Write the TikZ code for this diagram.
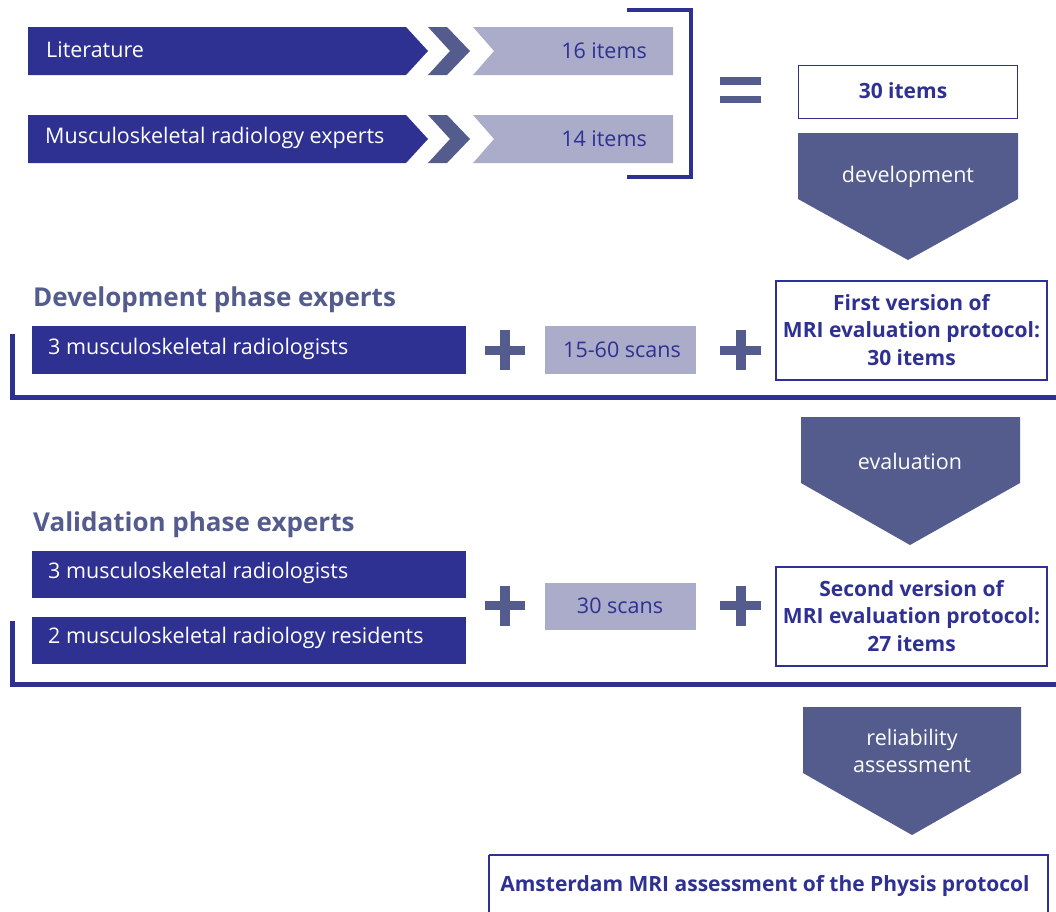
\documentclass[tikz,border=0pt]{standalone}
\usepackage{fontspec}
\setmainfont{Open Sans}
\definecolor{dblue}{HTML}{2E3192}
\definecolor{slate}{HTML}{545B8D}
\definecolor{lightv}{HTML}{ABACC9}
\begin{document}
\begin{tikzpicture}[x=1pt,y=-1pt,
  wtxt/.style={font=\fontsize{21.5}{24}\selectfont, text=white, inner sep=0pt, anchor=west, text height=15.4pt, text depth=0pt},
  btxt/.style={font=\fontsize{21.5}{24}\selectfont, text=dblue, inner sep=0pt, text height=15.4pt, text depth=0pt},
  title/.style={font=\bfseries\fontsize{26}{30}\selectfont, text=slate, inner sep=0pt, anchor=west, text height=18.6pt, text depth=0pt},
  boldbox/.style={draw=dblue, line width=1.6pt, fill=white},
  boldtxt/.style={font=\bfseries\fontsize{21}{27.5}\selectfont, text=dblue, align=center, inner sep=0pt},
  ptxt/.style={font=\fontsize{21.5}{27}\selectfont, text=white, align=center, inner sep=0pt},
  brk/.style={draw=dblue, line width=4.5pt},
]
\useasboundingbox (0,0) rectangle (1056,911);

% ---- Row 1
\fill[dblue] (28,27) -- (406,27) -- (428,51) -- (406,75) -- (28,75) -- cycle;
\node[wtxt] (lit) at (46,50) {Literature};
\fill[slate] (428,27) -- (447,27) -- (470,51) -- (447,75) -- (428,75) -- (450,51) -- cycle;
\fill[lightv] (473,27) -- (673,27) -- (673,75) -- (473,75) -- (494,51) -- cycle;
\node[btxt, anchor=east] (i16) at (647,51) {16 items};

% ---- Row 2
\fill[dblue] (28,115) -- (406,115) -- (428,139) -- (406,163) -- (28,163) -- cycle;
\node[wtxt] (msk) at (45,136) {Musculoskeletal radiology experts};
\fill[slate] (428,115) -- (447,115) -- (470,139) -- (447,163) -- (428,163) -- (450,139) -- cycle;
\fill[lightv] (473,115) -- (673,115) -- (673,163) -- (473,163) -- (494,139) -- cycle;
\node[btxt, anchor=east] (i14) at (647,139) {14 items};

% bracket
\draw[brk] (627,10) -- (691,10) -- (691,177) -- (627,177);

% equals
\fill[slate] (720,77) rectangle (761,85);
\fill[slate] (720,96) rectangle (761,103);

% 30 items
\node[boldbox, minimum width=219pt, minimum height=53pt, inner sep=0pt] (i30) at (908,92) {};
\node[boldtxt] (i30t) at (903,91) {30 items};

% development pentagon
\fill[slate] (798,133) -- (1018,133) -- (1018,199) -- (908,260) -- (798,199) -- cycle;
\node[ptxt] (dev) at (908,177) {development};

% ---- Development phase
\node[title] (devtitle) at (33,297) {Development phase experts};
\draw[brk] (12.5,334) -- (12.5,397.5) -- (1056,397.5);
\fill[dblue] (32,326) rectangle (466,374);
\node[wtxt] (r1) at (48,347) {3 musculoskeletal radiologists};
\fill[slate] (485,346) rectangle (525,355);
\fill[slate] (500,330) rectangle (510,370);
\fill[lightv] (545,326) rectangle (696,374);
\node[btxt] (s1) at (622,350) {15-60 scans};
\fill[slate] (720,346) rectangle (761,355);
\fill[slate] (735.5,330) rectangle (745.5,370);
\draw[boldbox] (776,281) rectangle (1047,380);
\node[boldtxt] (v1) at (911.5,330) {First version of\\MRI evaluation protocol:\\30 items};

% evaluation pentagon
\fill[slate] (801,417) -- (1020,417) -- (1020,483) -- (910,545) -- (801,483) -- cycle;
\node[ptxt] (eval) at (910,461) {evaluation};

% ---- Validation phase
\node[title] (valtitle) at (33,522) {Validation phase experts};
\draw[brk] (12.5,621) -- (12.5,684.5) -- (1056,684.5);
\fill[dblue] (32,551) rectangle (466,598);
\node[wtxt] (r2) at (48,571) {3 musculoskeletal radiologists};
\fill[dblue] (32,617) rectangle (466,664);
\node[wtxt] (r3) at (48,636) {2 musculoskeletal radiology residents};
\fill[slate] (485,601) rectangle (525,610);
\fill[slate] (500,586) rectangle (510,626);
\fill[lightv] (545,583) rectangle (696,630);
\node[btxt] (s2) at (620,606) {30 scans};
\fill[slate] (720,601) rectangle (761,610);
\fill[slate] (735.5,586) rectangle (745.5,626);
\draw[boldbox] (776,567) rectangle (1047,666);
\node[boldtxt] (v2) at (911.5,616) {Second version of\\MRI evaluation protocol:\\27 items};

% reliability pentagon
\fill[slate] (803,707) -- (1021,707) -- (1021,773) -- (912,835) -- (803,773) -- cycle;
\node[ptxt] (rel) at (912,751) {reliability\\assessment};

% final box
\draw[boldbox] (489,855) -- (1048,855) -- (1048,915) (489,915) -- (489,855);
\node[boldtxt] (final) at (765,886) {Amsterdam MRI assessment of the Physis protocol};
\end{tikzpicture}
\end{document}
